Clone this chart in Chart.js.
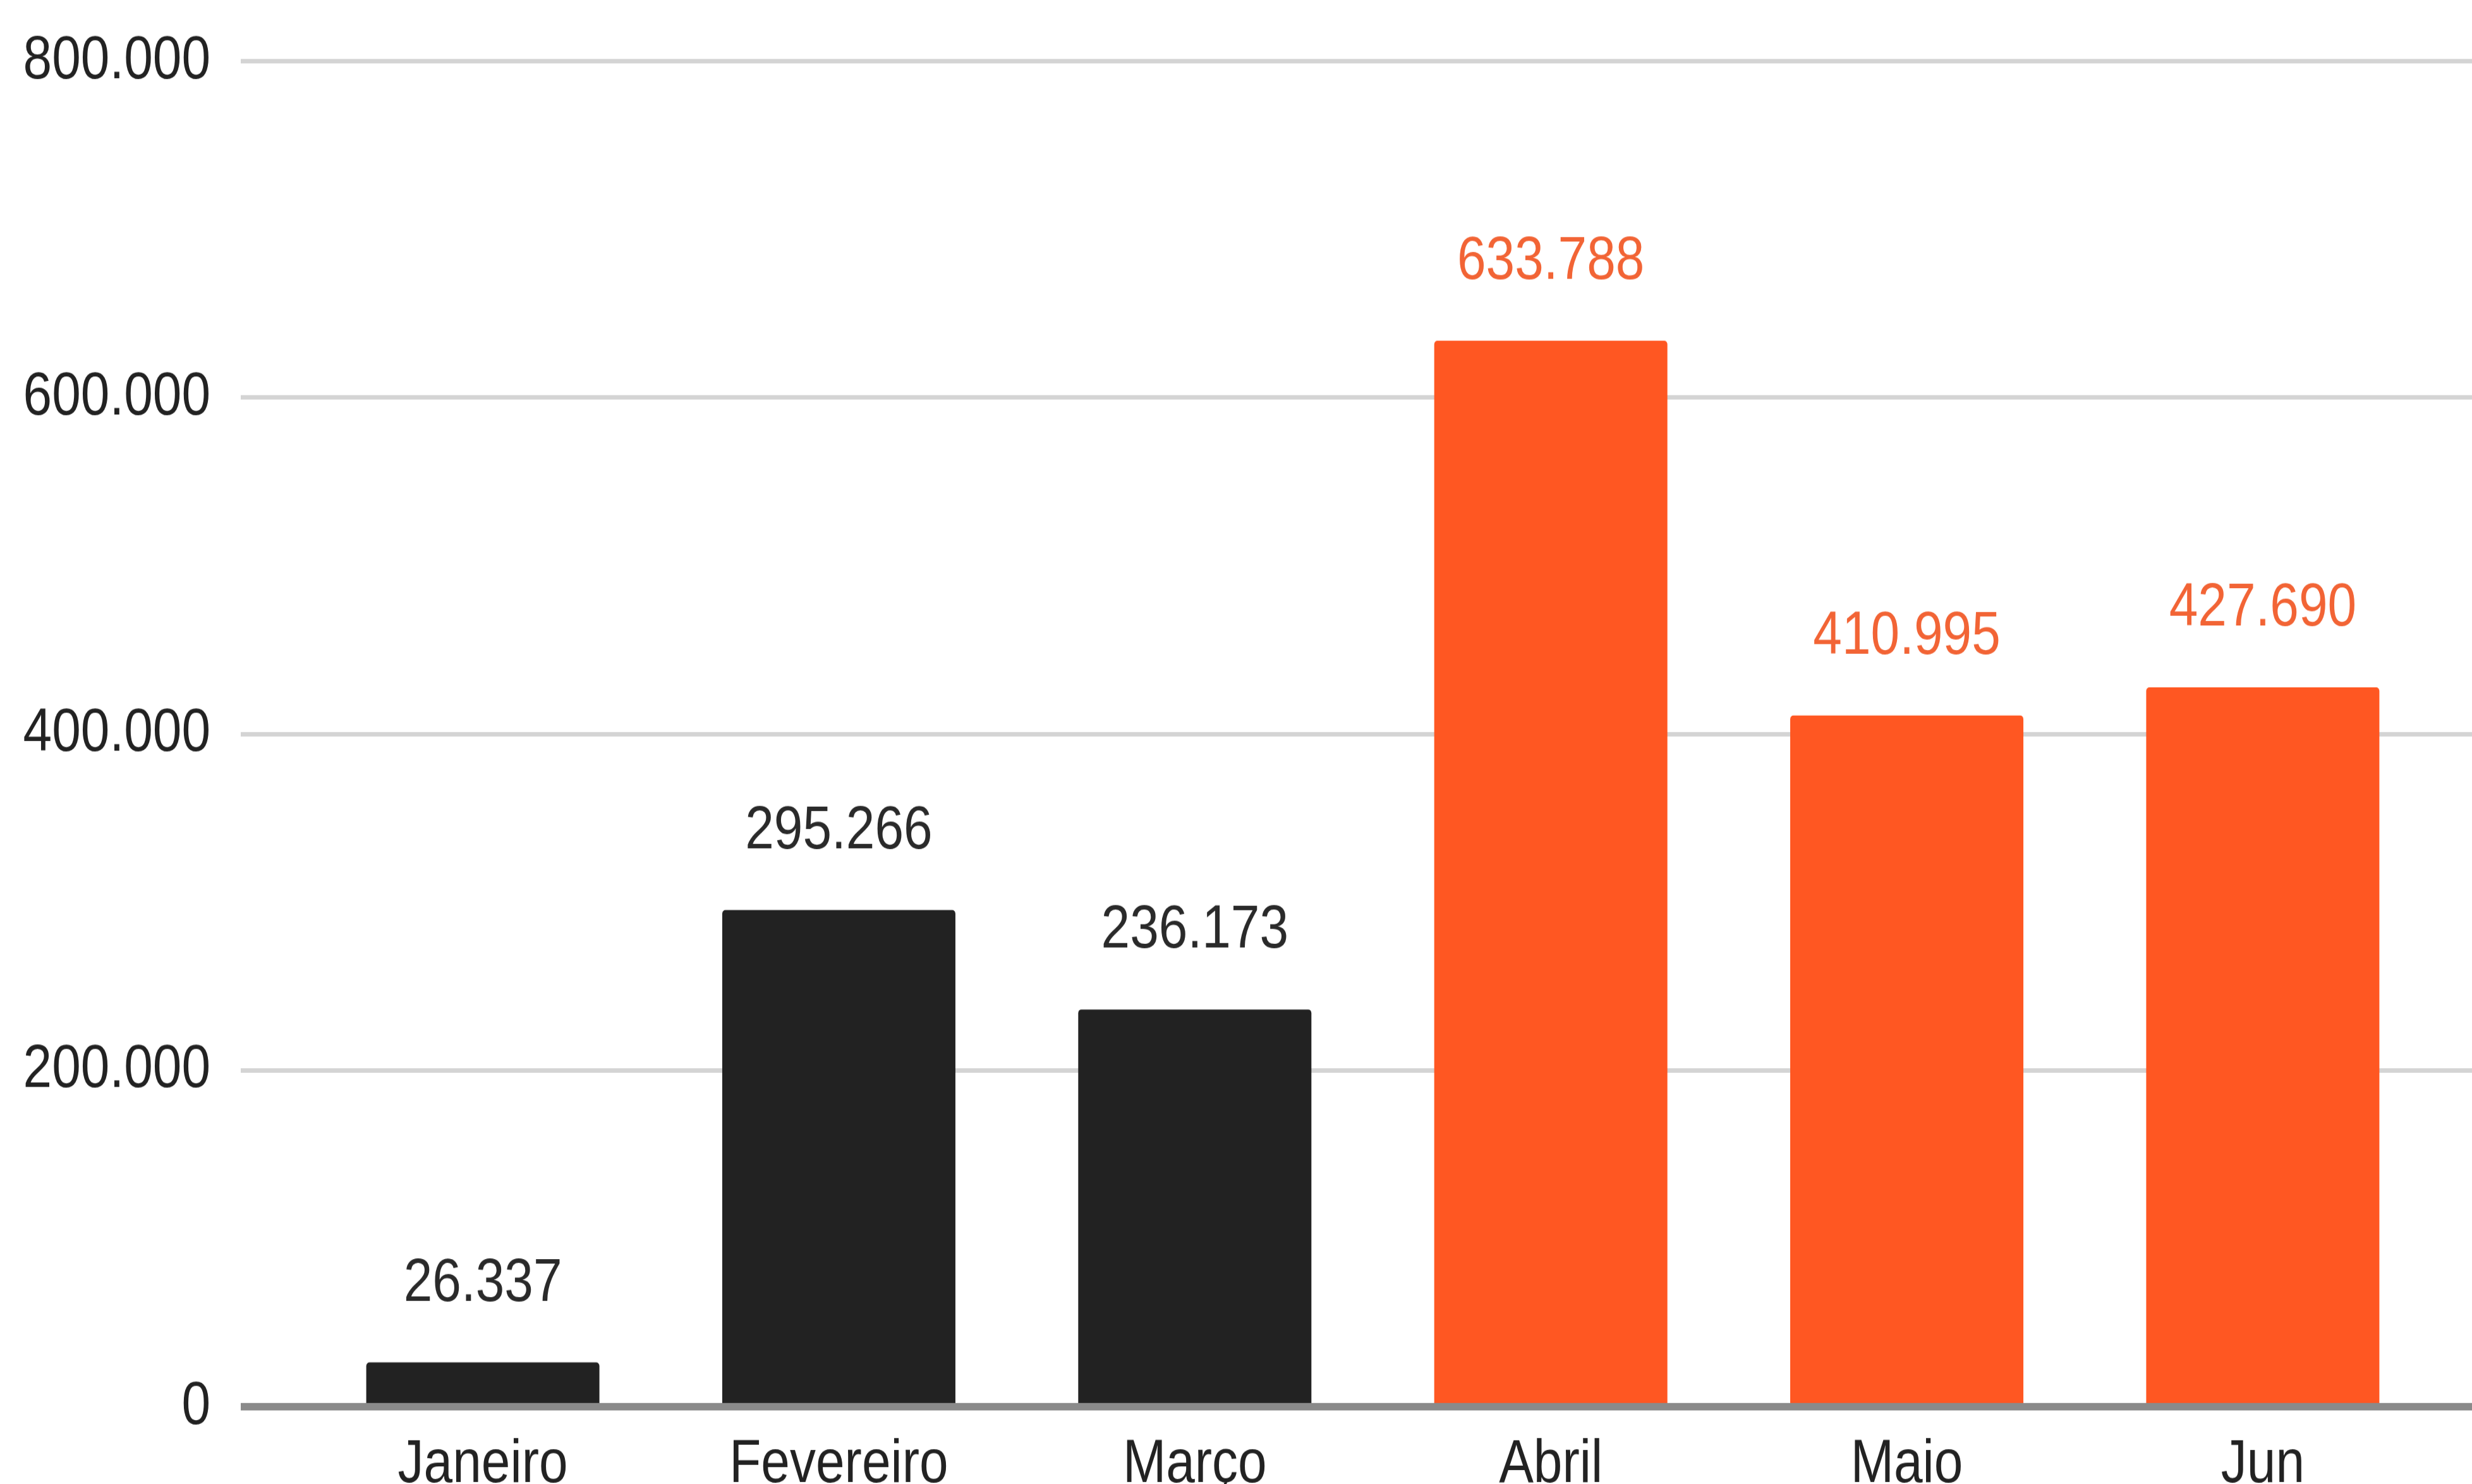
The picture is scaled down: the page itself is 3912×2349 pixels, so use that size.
<!DOCTYPE html>
<html>
<head>
<meta charset="utf-8">
<script src="https://cdn.jsdelivr.net/npm/chart.js@4.4.1/dist/chart.umd.min.js"></script>
<style>
  html, body { margin: 0; padding: 0; background: #ffffff; overflow: hidden; }
  /* canvas is drawn 1.18x shorter and stretched back vertically */
  #myChart { position: absolute; left: 0; top: 0; transform: scaleY(1.18); transform-origin: 0 0; }
</style>
</head>
<body>
<canvas id="myChart" width="3964" height="2034"></canvas>
<script>
// Monthly totals
const months = ['Janeiro', 'Fevereiro', 'Março', 'Abril', 'Maio', 'Jun'];
const totals = [26337, 295266, 236173, 633788, 410995, 427690];
const yTicks = [0, 200000, 400000, 600000, 800000];

// First quarter dark, second quarter orange
const barColors = ['#222222', '#222222', '#222222', '#FF5722', '#FF5722', '#FF5722'];
const labelColors = ['#2a2a2a', '#2a2a2a', '#2a2a2a', '#F26435', '#F26435', '#F26435'];

const FONT = '"Liberation Sans", Arial, sans-serif';
const FONT_SIZE = 82;

// 800000 -> "800.000"
function fmt(v) {
  return String(v).replace(/\B(?=(\d{3})+(?!\d))/g, '.');
}

// Value labels above each bar
const valueLabels = {
  id: 'valueLabels',
  afterDatasetsDraw(chart) {
    const ctx = chart.ctx;
    const meta = chart.getDatasetMeta(0);
    ctx.save();
    ctx.font = FONT_SIZE + 'px ' + FONT;
    ctx.textAlign = 'center';
    ctx.textBaseline = 'alphabetic';
    meta.data.forEach((bar, i) => {
      ctx.fillStyle = labelColors[i];
      ctx.fillText(fmt(totals[i]), bar.x, bar.y - 83);
    });
    ctx.restore();
  }
};

window.onload = function() {
  const ctx = document.getElementById('myChart').getContext('2d');
  new Chart(ctx, {
    type: 'bar',
    data: {
      datasets: [{
        data: totals.map((v, i) => ({ x: i, y: v })),
        backgroundColor: barColors,
        borderWidth: 0,
        borderRadius: 5,
        borderSkipped: 'start',
        categoryPercentage: 1,
        barPercentage: 0.655
      }]
    },
    options: {
      responsive: false,
      devicePixelRatio: 1,
      animation: false,
      layout: { padding: { top: 82, bottom: 20, left: 0, right: 0 } },
      plugins: { legend: { display: false }, tooltip: { enabled: false } },
      scales: {
        x: {
          type: 'linear',
          offset: false,
          min: -0.68,
          max: 5.68,
          grid: { display: false, drawTicks: false, offset: false },
          border: { display: false },
          afterBuildTicks: (scale) => { scale.ticks = months.map((m, i) => ({ value: i })); },
          afterFit: (scale) => { scale.height = 127; },
          ticks: {
            padding: 29,
            color: '#222222',
            font: { family: FONT, size: FONT_SIZE },
            maxRotation: 0,
            autoSkip: false,
            callback: (v) => months[v]
          }
        },
        y: {
          min: 0,
          max: 800000,
          afterBuildTicks: (scale) => { scale.ticks = yTicks.map(v => ({ value: v })); },
          afterFit: (scale) => {
            scale.width = 381;
            // top/bottom space is set by layout padding only
            scale.paddingTop = 0;
            scale.paddingBottom = 0;
          },
          grid: {
            drawTicks: false,
            color: (c) => c.tick.value === 0 ? '#8a8a8a' : '#d4d4d4',
            lineWidth: (c) => c.tick.value === 0 ? 10 : 6
          },
          border: { display: false },
          ticks: {
            padding: 48,
            color: '#222222',
            font: { family: FONT, size: FONT_SIZE },
            callback: (v) => fmt(v)
          }
        }
      }
    },
    plugins: [valueLabels]
  });
};
</script>
</body>
</html>
